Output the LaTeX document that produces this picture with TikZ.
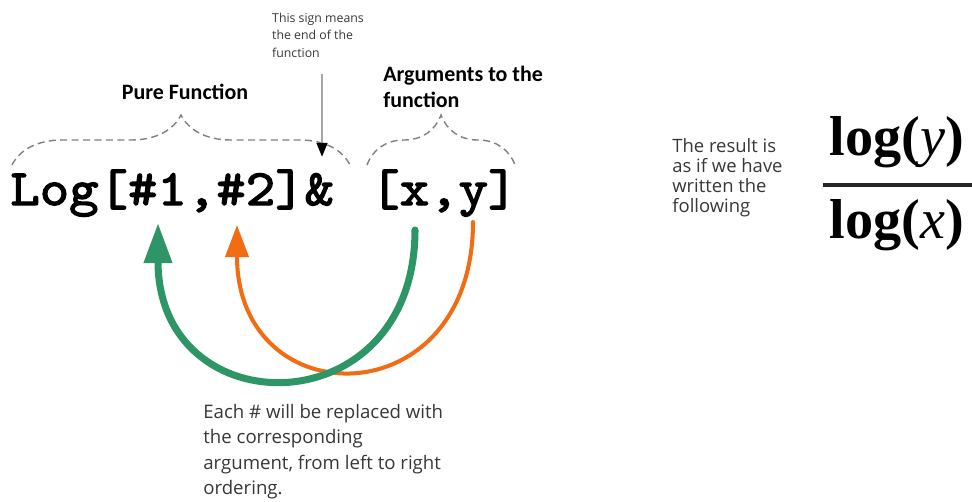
\documentclass[tikz,border=0pt]{standalone}
\usepackage{fontspec}
\setmainfont{Open Sans}
\newfontfamily\headfont{Carlito}
\newfontfamily\codefont[FakeBold=2.5, FakeStretch=1.1]{lmmono10-regular.otf}
\newfontfamily\fracfont{Liberation Serif}
\usepackage{tikz}
\usetikzlibrary{arrows.meta}
\usetikzlibrary{decorations.pathreplacing}
\definecolor{argreen}{RGB}{46,150,102}
\definecolor{arorange}{RGB}{242,108,20}
\definecolor{notegray}{RGB}{55,55,55}

\begin{document}
\begin{tikzpicture}[x=0.02cm,y=-0.02cm]
    \tikzset{code/.style = {inner sep=0pt, font=\codefont\fontsize{29}{31}\selectfont}}
    \tikzset{headtext/.style = {inner sep=0pt, align=left, font=\headfont\bfseries\fontsize{12.5}{14.5}\selectfont}}
    \tikzset{smalltext/.style = {inner sep=0pt, align=left, text=notegray, font=\fontsize{7}{10}\selectfont}}
    \tikzset{bodytext/.style = {inner sep=0pt, align=left, text=notegray, font=\fontsize{10.6}{14.5}\selectfont}}
    \tikzset{resulttext/.style = {inner sep=0pt, align=left, text=notegray, font=\fontsize{10.5}{11.5}\selectfont}}
    \tikzset{fractext/.style = {inner sep=0pt, font=\fracfont\bfseries\fontsize{32}{34}\selectfont}}
    \tikzset{bracket/.style = {gray, thick, dash pattern=on 4pt off 2.5pt, decorate, decoration={brace, amplitude=1cm}}}
    \tikzset{swap/.style = {line cap=round}}

    \useasboundingbox (0,0) rectangle (972,501);

    % code
    \node[code, anchor=base west] (fn) at (10,205) {Log[\#1,\#2]\&};
    \node[code, anchor=base west] (args) at (370,205) {[x,y]};

    % labels
    \node[headtext] (pure) at (185,92) {Pure Function};
    \node[headtext, anchor=north west] (argtitle) at (383,66) {Arguments to the\\function};
    \node[smalltext] (sign) at (318,35) {This sign means\\the end of the\\function};
    \node[bodytext, anchor=north west] (note) at (203,404) {Each \# will be replaced with\\the corresponding\\argument, from left to right\\ordering.};
    \node[resulttext, anchor=north west] (result) at (672,138) {The result is\\as if we have\\written the\\following};

    % fraction
    \node[fractext] (num) at (897,142) {log(\textit{\mdseries y})};
    \node[fractext] (den) at (897,225) {log(\textit{\mdseries x})};
    \draw[line width=0.08cm, black!85] (823,185) -- (972,185);

    % braces
    \draw[bracket] (12,165) -- (350,165);
    \draw[bracket] (367,165) -- (515,165);

    % end sign arrow
    \coordinate (amp) at (322,157);
    \draw[gray!70, line width=1.5pt, -{Triangle[length=8pt, width=6pt, color=black]}] (sign.south -| amp) ++(0,16) -- (amp);

    % argument arrows
    \coordinate (hash1) at (158,223);
    \coordinate (hash2) at (237,225);
    \coordinate (argx) at (415,230);
    \coordinate (argy) at (473,222);
    \draw[swap, arorange, line width=2.3pt, -{Triangle[length=0.64cm, width=0.46cm]}]
        (argy) .. controls (473,418) and (237,418) .. (hash2);
    \draw[swap, argreen, line width=4pt, -{Triangle[length=0.8cm, width=0.54cm]}]
        (argx) .. controls (415,428) and (158,428) .. (hash1);
\end{tikzpicture}
\end{document}
